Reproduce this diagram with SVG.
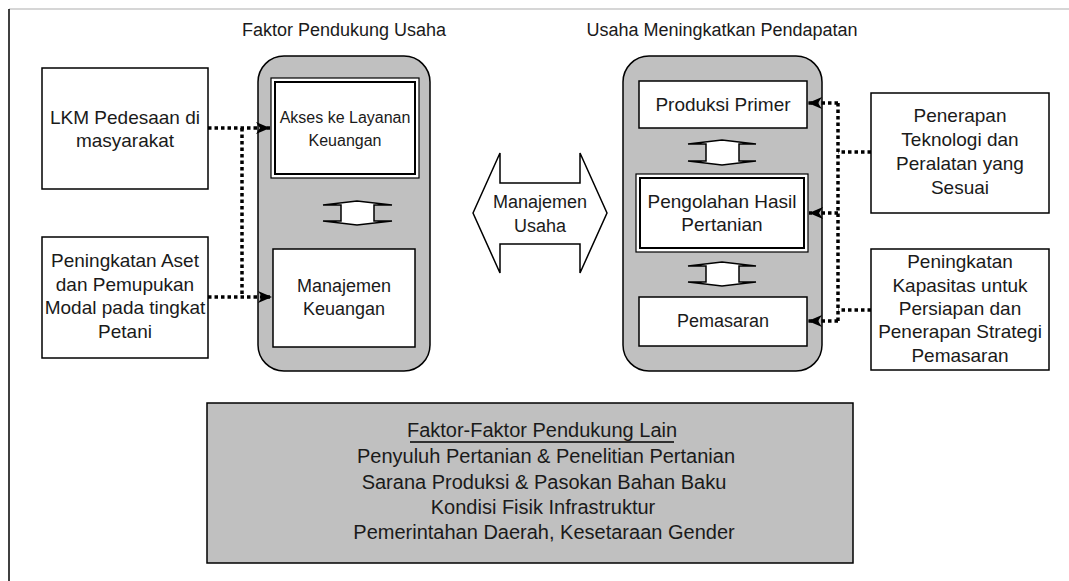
<svg xmlns="http://www.w3.org/2000/svg" width="1069" height="581" viewBox="0 0 1069 581">
  <defs>
    <marker id="head" markerUnits="userSpaceOnUse" markerWidth="16" markerHeight="12" refX="14" refY="6" orient="auto">
      <path d="M0,0 L14,6 L0,12 L4,6 Z" fill="#000"/>
    </marker>
    <style>
      text { font-family: "Liberation Sans", Arial, sans-serif; fill: #1a1a1a; text-anchor: middle; }
      .t { font-size: 18px; }
      .m { font-size: 19px; }
      .s { font-size: 16px; }
      .l { font-size: 20px; }
      .title { font-size: 18px; }
      .box { fill: #fff; stroke: #000; stroke-width: 1.5; }
      .pane { fill: #c0c0c0; stroke: #000; stroke-width: 1.5; }
      .dbl-in { fill: none; stroke: #000; stroke-width: 2; }
      .dbl-out { fill: #fff; stroke: #000; stroke-width: 1.2; }
      .arr { fill: #fff; stroke: #000; stroke-width: 1.5; stroke-linejoin: miter; }
      .dot { fill: none; stroke: #000; stroke-width: 3.5; stroke-dasharray: 3.5 3; }
    </style>
  </defs>

  <!-- page frame -->
  <line x1="9" y1="9" x2="1069" y2="9" stroke="#c8c8c8" stroke-width="1.5"/>
  <line x1="9" y1="9" x2="9" y2="581" stroke="#000" stroke-width="1.5"/>

  <!-- left column: supporting factors -->
  <g id="faktor-pendukung">
    <text class="title" x="344" y="36">Faktor Pendukung Usaha</text>
    <rect class="pane" x="258" y="56" width="172" height="315" rx="26" ry="26"/>
  </g>
  <g id="akses">
    <rect class="dbl-out" x="271" y="78" width="148" height="100"/>
    <rect class="dbl-in" x="275" y="82" width="140" height="92"/>
    <text class="s" x="345" y="123">Akses ke Layanan</text>
    <text class="s" x="345" y="146">Keuangan</text>
  </g>
  <g id="arrow-left">
    <path class="arr" d="M323,205 L357,201 L392,205 L374,205 L374,221 L392,221 L357,225 L323,221 L341,221 L341,205 Z"/>
  </g>
  <g id="manajemen-keuangan">
    <rect class="box" x="273" y="249" width="142" height="98"/>
    <text class="t" x="344" y="292">Manajemen</text>
    <text class="t" x="344" y="315">Keuangan</text>
  </g>

  <!-- left inputs -->
  <g id="lkm">
    <rect class="box" x="42" y="68" width="166" height="121"/>
    <text class="m" x="125" y="124">LKM Pedesaan di</text>
    <text class="m" x="125" y="147">masyarakat</text>
  </g>
  <g id="aset">
    <rect class="box" x="42" y="237" width="166" height="121"/>
    <text class="m" x="125" y="267">Peningkatan Aset</text>
    <text class="m" x="125" y="291">dan Pemupukan</text>
    <text class="m" x="125" y="314">Modal pada tingkat</text>
    <text class="m" x="125" y="338">Petani</text>
  </g>

  <!-- centre: business management -->
  <g id="manajemen-usaha">
    <path class="arr" d="M473,213 L500,153 L500,183 L580,183 L580,153 L607,213 L580,273 L580,244 L500,244 L500,273 Z"/>
    <text class="t" x="540" y="208">Manajemen</text>
    <text class="t" x="540" y="232">Usaha</text>
  </g>

  <!-- right column: income activities -->
  <g id="usaha-pendapatan">
    <text class="title" x="722" y="36">Usaha Meningkatkan Pendapatan</text>
    <rect class="pane" x="623" y="56" width="199" height="315" rx="26" ry="26"/>
  </g>
  <g id="produksi">
    <rect class="box" x="639" y="81" width="168" height="47"/>
    <text class="m" x="723" y="111">Produksi Primer</text>
  </g>
  <g id="arrow-right-1">
    <path class="arr" d="M688,144 L722,140 L756,144 L739,144 L739,161 L756,161 L722,165 L688,161 L706,161 L706,144 Z"/>
  </g>
  <g id="pengolahan">
    <rect class="dbl-out" x="636" y="174" width="172" height="78"/>
    <rect class="dbl-in" x="640" y="178" width="164" height="70"/>
    <text class="m" x="722" y="208">Pengolahan Hasil</text>
    <text class="m" x="722" y="231">Pertanian</text>
  </g>
  <g id="arrow-right-2">
    <path class="arr" d="M688,266 L722,262 L756,266 L739,266 L739,282 L756,282 L722,286 L688,282 L706,282 L706,266 Z"/>
  </g>
  <g id="pemasaran">
    <rect class="box" x="639" y="297" width="168" height="49"/>
    <text class="t" x="723" y="327">Pemasaran</text>
  </g>

  <!-- right inputs -->
  <g id="teknologi">
    <rect class="box" x="871" y="93" width="178" height="120"/>
    <text class="m" x="960" y="122">Penerapan</text>
    <text class="m" x="960" y="146">Teknologi dan</text>
    <text class="m" x="960" y="170">Peralatan yang</text>
    <text class="m" x="960" y="194">Sesuai</text>
  </g>
  <g id="kapasitas">
    <rect class="box" x="871" y="249" width="178" height="121"/>
    <text class="m" x="960" y="268">Peningkatan</text>
    <text class="m" x="960" y="292">Kapasitas untuk</text>
    <text class="m" x="960" y="315">Persiapan dan</text>
    <text class="m" x="960" y="338">Penerapan Strategi</text>
    <text class="m" x="960" y="362">Pemasaran</text>
  </g>

  <!-- other supporting factors -->
  <g id="faktor-lain">
    <rect class="pane" x="207" y="403" width="646" height="160"/>
    <text class="l" x="542" y="437">Faktor-Faktor Pendukung Lain</text>
    <line x1="410" y1="442" x2="674" y2="442" stroke="#000" stroke-width="1.3"/>
    <text class="l" x="546" y="463">Penyuluh Pertanian &amp; Penelitian Pertanian</text>
    <text class="l" x="544" y="489">Sarana Produksi &amp; Pasokan Bahan Baku</text>
    <text class="l" x="543" y="514">Kondisi Fisik Infrastruktur</text>
    <text class="l" x="544" y="539">Pemerintahan Daerah, Kesetaraan Gender</text>
  </g>

  <!-- dotted connectors -->
  <g id="connectors">
    <path class="dot" d="M208,128 H270" marker-end="url(#head)"/>
    <path class="dot" d="M208,297 H272" marker-end="url(#head)"/>
    <path class="dot" d="M242,128 V297"/>
    <path class="dot" d="M871,152 H838"/>
    <path class="dot" d="M871,310 H838"/>
    <path class="dot" d="M838,103 V321"/>
    <path class="dot" d="M838,103 H808" marker-end="url(#head)"/>
    <path class="dot" d="M838,213 H809" marker-end="url(#head)"/>
    <path class="dot" d="M838,321 H808" marker-end="url(#head)"/>
  </g>
</svg>
